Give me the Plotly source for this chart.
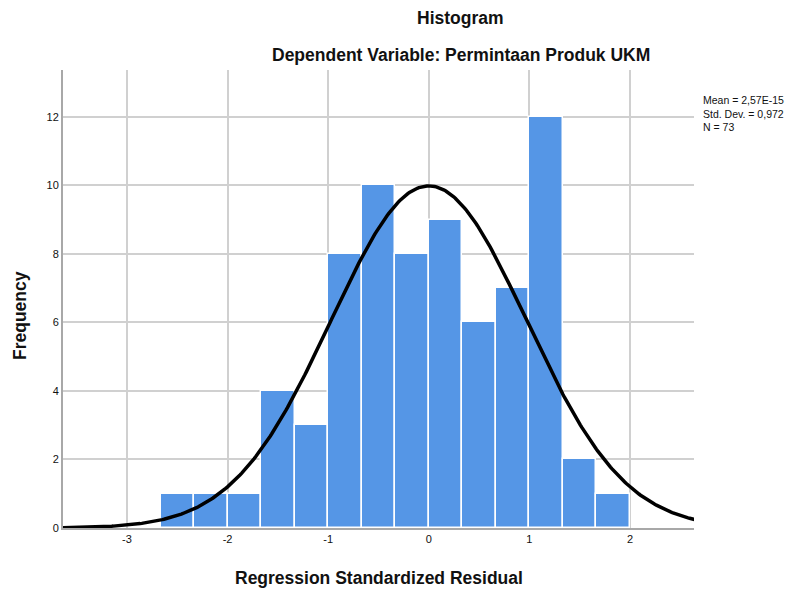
import numpy as np
import plotly.graph_objects as go

# Data
bin_start = -8 / 3
bin_width = 1 / 3
counts = [1, 1, 1, 4, 3, 8, 10, 8, 9, 6, 7, 12, 2, 1]
mean_val = 2.57e-15
std_dev = 0.972
n_obs = 73
x_ticks = [-3, -2, -1, 0, 1, 2]
y_ticks = [0, 2, 4, 6, 8, 10, 12]

centers = [bin_start + bin_width * (i + 0.5) for i in range(len(counts))]

xs = np.linspace(-3.64, 2.64, 400)
ys = n_obs * bin_width / (std_dev * np.sqrt(2 * np.pi)) * np.exp(-0.5 * ((xs - mean_val) / std_dev) ** 2)

fig = go.Figure()
fig.add_trace(go.Bar(
    x=centers, y=counts, width=bin_width,
    marker=dict(color="#5596E6", line=dict(color="white", width=1.5)),
    hoverinfo="x+y", showlegend=False,
))
fig.add_trace(go.Scatter(
    x=xs, y=ys, mode="lines", line=dict(color="black", width=3.5),
    showlegend=False, hoverinfo="skip",
))

L, R, T, B = 63, 102, 70, 62
W, H = 796, 590
pw = W - L - R
ph = H - T - B

def px_x(px):
    return (px - L) / pw

def px_y(py):
    return (H - B - py) / ph

fig.update_layout(
    width=W, height=H,
    margin=dict(l=L, r=R, t=T, b=B, autoexpand=False),
    paper_bgcolor="white", plot_bgcolor="white",
    font=dict(family="Liberation Sans, Arial, sans-serif", color="#111"),
    bargap=0,
    xaxis=dict(
        range=[-3.636, 2.636], tickvals=x_ticks, ticktext=[str(t) for t in x_ticks],
        showgrid=True, gridcolor="#d0d0d0", gridwidth=1.5,
        showline=True, linecolor="#a8a8a8", linewidth=2,
        zeroline=False, ticks="", tickfont=dict(size=11), automargin=False,
    ),
    yaxis=dict(
        range=[0, 13.37], tickvals=y_ticks,
        showgrid=True, gridcolor="#d0d0d0", gridwidth=1.5,
        showline=True, linecolor="#a8a8a8", linewidth=2,
        zeroline=False, ticks="", tickfont=dict(size=11), automargin=False,
    ),
    annotations=[
        dict(text="<b>Histogram</b>", xref="paper", yref="paper",
             x=px_x(461), y=px_y(18), xanchor="center", yanchor="middle",
             showarrow=False, font=dict(size=17.5)),
        dict(text="<b>Dependent Variable: Permintaan Produk UKM</b>", xref="paper", yref="paper",
             x=px_x(461), y=px_y(55), xanchor="center", yanchor="middle",
             showarrow=False, font=dict(size=17.5)),
        dict(text="<b>Regression Standardized Residual</b>", xref="paper", yref="paper",
             x=px_x(379), y=px_y(578), xanchor="center", yanchor="middle",
             showarrow=False, font=dict(size=17.5)),
        dict(text="<b>Frequency</b>", xref="paper", yref="paper",
             x=px_x(20), y=px_y(315), xanchor="center", yanchor="middle", textangle=-90,
             showarrow=False, font=dict(size=17.5)),
        dict(text=f"Mean = 2,57E-15<br>Std. Dev. = 0,972<br>N = {n_obs}",
             xref="paper", yref="paper", x=px_x(701), y=px_y(92),
             xanchor="left", yanchor="top", align="left", showarrow=False,
             font=dict(size=10.5)),
    ],
)

fig.write_html(
    "out.html",
    config={"displayModeBar": False},
    post_script="document.body.style.margin='0';document.body.style.overflow='hidden';",
)
